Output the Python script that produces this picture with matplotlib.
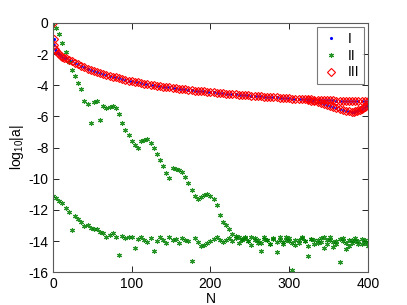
import numpy as np
import matplotlib
matplotlib.use("Agg")
import matplotlib.pyplot as plt
from matplotlib.lines import Line2D

plt.rcParams['font.family'] = ['Liberation Sans', 'DejaVu Sans']
plt.rcParams['mathtext.default'] = 'regular'
plt.rcParams['axes.unicode_minus'] = False

# series III (and I, which lies on top of it) : main curve
n_III = [0, 1, 2, 3, 4, 6, 8, 10, 12, 14, 16, 20, 24, 28, 32, 36, 40, 44, 48, 52,
         56, 60, 64, 68, 72, 76, 80, 84, 88, 92, 96, 100, 104, 108, 112, 116, 120,
         124, 128, 132, 136, 140, 144, 148, 152, 156, 160, 164, 168, 172, 176, 180,
         184, 188, 192, 196, 200, 204, 208, 212, 216, 220, 224, 228, 232, 236, 240,
         244, 248, 252, 256, 260, 264, 268, 272, 276, 280, 284, 288, 292, 296, 300,
         304, 308, 312, 316, 320, 324, 328, 332, 336, 340, 344, 348, 352, 356, 360,
         364, 368, 372, 376, 380, 384, 388, 392, 396, 400]
a_III = [0.0, -1.05, -1.45, -1.65, -1.78, -1.92, -2.02, -2.1, -2.17, -2.23, -2.28,
         -2.38, -2.47, -2.56, -2.66, -2.76, -2.85, -2.93, -3.0, -3.07, -3.14, -3.2,
         -3.26, -3.32, -3.38, -3.44, -3.5, -3.55, -3.6, -3.65, -3.7, -3.74, -3.78,
         -3.82, -3.86, -3.9, -3.93, -3.96, -4.0, -4.03, -4.06, -4.09, -4.12, -4.14,
         -4.17, -4.19, -4.22, -4.24, -4.27, -4.29, -4.31, -4.34, -4.36, -4.38, -4.4,
         -4.42, -4.44, -4.46, -4.48, -4.5, -4.52, -4.54, -4.55, -4.57, -4.59, -4.6,
         -4.62, -4.64, -4.65, -4.67, -4.68, -4.7, -4.71, -4.73, -4.74, -4.76, -4.77,
         -4.78, -4.8, -4.81, -4.82, -4.84, -4.85, -4.86, -4.87, -4.88, -4.89, -4.9,
         -4.91, -4.92, -4.93, -4.94, -4.95, -4.96, -4.96, -4.97, -4.98, -4.98, -4.99,
         -4.99, -5.0, -5.0, -5.0, -5.01, -5.01, -5.02, -5.02]
# lower part of the loop at the right end
n_loop = [400, 398, 396, 394, 392, 390, 388, 386, 384, 382, 380, 376, 372, 368,
          364, 360, 356, 352, 348, 344, 340, 336, 332, 328, 324]
a_loop = [-5.2, -5.3, -5.38, -5.45, -5.5, -5.56, -5.6, -5.65, -5.68, -5.7, -5.72,
          -5.68, -5.62, -5.56, -5.5, -5.44, -5.38, -5.32, -5.26, -5.2, -5.14, -5.08,
          -5.03, -4.99, -4.95]

# series II : two branches
n_II = list(range(0, 401, 4))
a_II_upper = [-0.1, -0.3, -0.7, -1.3, -1.85, -2.5, -3.0, -3.4, -3.85, -4.25, -5.0,
              -5.2, -6.4, -5.1, -5.0, -6.2, -5.35, -5.45, -5.4, -5.35, -5.45, -5.85,
              -6.4, -6.85, -7.2, -7.55, -7.8, -8.0, -7.6, -7.5, -7.45, -7.7, -8.05,
              -8.4, -8.8, -9.2, -9.6, -9.95, -9.3, -9.4, -9.45, -9.55, -9.9, -10.3,
              -10.7, -11.1, -11.3, -11.15, -11.05, -11.0, -11.1, -11.3, -11.7, -12.3,
              -12.75, -12.95, -13.2, -13.55, -13.8, -13.7, -13.95, -13.8, -14.0,
              -13.75, -13.9, -14.1, -14.6, -13.85, -13.95, -14.15, -13.8, -14.7,
              -13.9, -14.05, -13.75, -14.0, -15.85, -13.9, -14.1, -13.8, -14.0,
              -14.95, -13.85, -14.15, -13.9, -14.05, -13.75, -14.2, -13.95, -14.4,
              -14.0, -15.35, -13.8, -14.1, -14.3, -13.9, -14.0, -14.2, -13.85, -14.1,
              -14.05]
a_II_lower = [-11.1, -11.25, -11.4, -11.55, -11.9, -12.1, -13.3, -12.4, -12.6, -12.8,
              -13.0, -12.95, -13.15, -13.25, -13.2, -13.4, -13.5, -13.75, -13.6,
              -13.5, -13.7, -14.9, -13.65, -13.8, -13.7, -13.75, -14.45, -13.85,
              -13.7, -13.95, -14.05, -13.8, -14.6, -14.0, -13.75, -13.9, -14.1,
              -13.75, -13.95, -13.85, -14.1, -13.8, -13.9, -14.0, -15.25, -13.8,
              -14.05, -14.3, -14.25, -14.1, -14.0, -13.85, -13.7, -13.95, -14.05,
              -13.9, -13.8, -14.0, -13.65, -14.1, -13.85, -13.7, -14.0, -14.25,
              -13.8, -13.95, -14.1, -13.7, -13.9, -14.2, -13.85, -14.05, -13.75,
              -14.15, -13.95, -13.8, -14.1, -14.25, -13.9, -13.7, -14.0, -14.3,
              -13.85, -13.95, -14.1, -13.8, -14.45, -13.9, -13.75, -14.05, -14.2,
              -13.85, -14.0, -14.5, -13.9, -14.1, -13.8, -14.0, -14.2, -13.9, -14.3]

labels = ['I', 'II', 'III']

green = (0, 0.5, 0)
star = dict(ls='none', marker=(6, 2, 0), ms=3.6, mew=0.8, color=green, alpha=0.85)
diamond = dict(ls='none', marker='D', ms=4.4, mfc='none', mec='r', mew=0.8)
dot = dict(ls='none', marker='.', ms=2.5, color='b')

fig = plt.figure(figsize=(4.07, 3.05), dpi=100)
ax = fig.add_axes([0.13, 0.107, 0.774, 0.818])

n_all = n_III + n_loop
a_all = a_III + a_loop

ax.plot(n_all, a_all, **dot)
ax.plot(n_II, a_II_upper, **star)
ax.plot(n_II, a_II_lower, **star)
ax.plot(n_all, a_all, **diamond)

ax.set_xlim(0, 400)
ax.set_ylim(-16, 0)
ax.set_xticks([0, 100, 200, 300, 400])
ax.set_yticks(np.arange(-16, 1, 2))
ax.tick_params(direction='in', top=True, right=True, length=4, width=0.6,
               labelsize=10, colors='black', pad=3)
for s in ax.spines.values():
    s.set_color('0.35')
    s.set_linewidth(0.8)
ax.set_xlabel('N', fontsize=10, labelpad=1)
ax.set_ylabel('log$_{10}$|a|', fontsize=10, labelpad=2)

handles = [Line2D([], [], **dot), Line2D([], [], **star), Line2D([], [], **diamond)]
leg = ax.legend(handles, labels, loc='upper right', fontsize=10, frameon=True,
                fancybox=False, borderpad=0.35, handlelength=1.2, handletextpad=0.6,
                labelspacing=0.2, borderaxespad=0.3, numpoints=1)
leg.get_frame().set_edgecolor('0.35')
leg.get_frame().set_linewidth(0.8)

fig.savefig('out.png', dpi=100)
